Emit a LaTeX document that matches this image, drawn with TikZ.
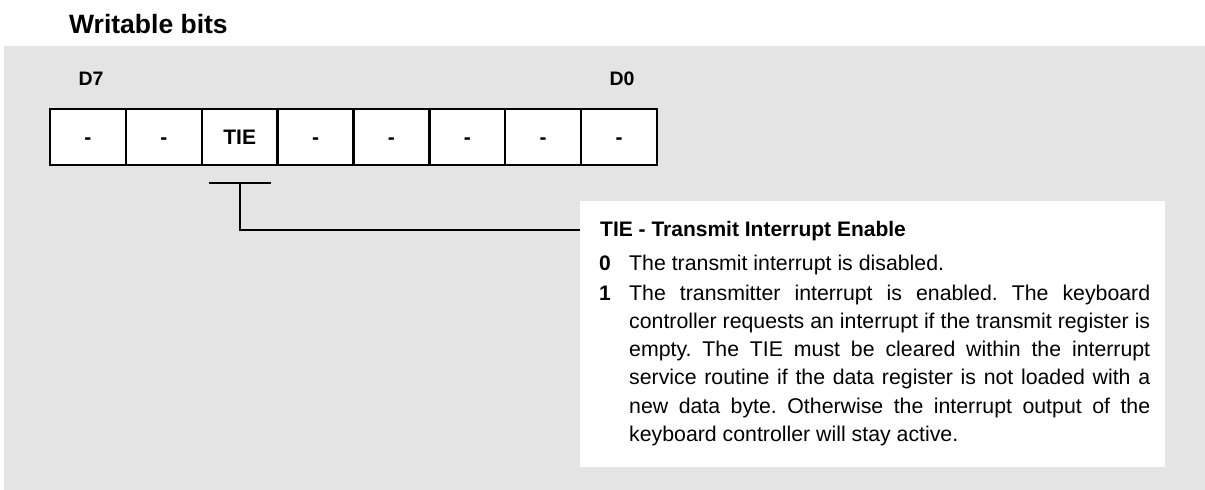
\documentclass[tikz,border=0pt]{standalone}
\usepackage{fontspec}
\setmainfont{Liberation Sans}
\definecolor{panelgray}{HTML}{E4E4E4}
\hbadness=10000
\begin{document}
\begin{tikzpicture}[x=1pt,y=-1pt,
  bitcell/.style={draw, line width=2.4pt, fill=white, minimum width=75.875pt, minimum height=56pt,
    inner sep=0pt, outer sep=0pt, text height=15pt, text depth=0pt,
    font=\fontsize{21}{25}\selectfont\bfseries},
  bitlbl/.style={inner sep=0pt, anchor=base, font=\fontsize{19.5}{23}\selectfont\bfseries},
  wire/.style={line width=2pt},
  boldtxt/.style={inner sep=0pt, anchor=base west, font=\fontsize{21}{25}\selectfont\bfseries},
  bodytxt/.style={inner sep=0pt, anchor=base west, font=\fontsize{21.3}{28.3}\selectfont}]
\useasboundingbox (0,0) rectangle (1205,490);
\fill[panelgray] (4,46) rectangle (1205,490);

\node[inner sep=0pt, anchor=base west, font=\fontsize{26.5}{31}\selectfont\bfseries] (title) at (69,33) {Writable bits};

\node[bitlbl] (d7) at (91,85) {D7};
\node[bitlbl] (d0) at (622,85) {D0};

\node[bitcell] (b7) at (87.94,137) {-};
\node[bitcell] (b6) at (163.81,137) {-};
\node[bitcell] (b5) at (239.69,137) {TIE};
\node[bitcell] (b4) at (315.56,137) {-};
\node[bitcell] (b3) at (391.44,137) {-};
\node[bitcell] (b2) at (467.31,137) {-};
\node[bitcell] (b1) at (543.19,137) {-};
\node[bitcell] (b0) at (619.06,137) {-};

\node[fill=white, minimum width=585pt, minimum height=266pt, inner sep=0pt, outer sep=0pt] (descbox) at (872.5,334) {};

\coordinate (tickL) at (209,183);
\coordinate (tickR) at (271,183);
\coordinate (hook) at (0,230);
\draw[wire] (tickL) -- (tickR);
\draw[wire] (b5 |- tickL) |- (descbox.west |- hook);

\node[boldtxt] (head) at (600,236) {TIE - Transmit Interrupt Enable};
\node[boldtxt] (v0) at (599,270) {0};
\node[boldtxt] (v1) at (599,300) {1};
\node[bodytxt] (t0) at (629,270) {The transmit interrupt is disabled.};
\node[bodytxt, text width=521pt, align=justify] (t1) at (629,300)
  {\frenchspacing\tolerance=10000\hyphenpenalty=10000
  The transmitter interrupt is enabled. The keyboard\linebreak
  controller requests an interrupt if the transmit register is\linebreak
  empty. The TIE must be cleared within the interrupt\linebreak
  service routine if the data register is not loaded with a\linebreak
  new data byte. Otherwise the interrupt output of the\linebreak
  keyboard controller will stay active.};
\end{tikzpicture}
\end{document}
